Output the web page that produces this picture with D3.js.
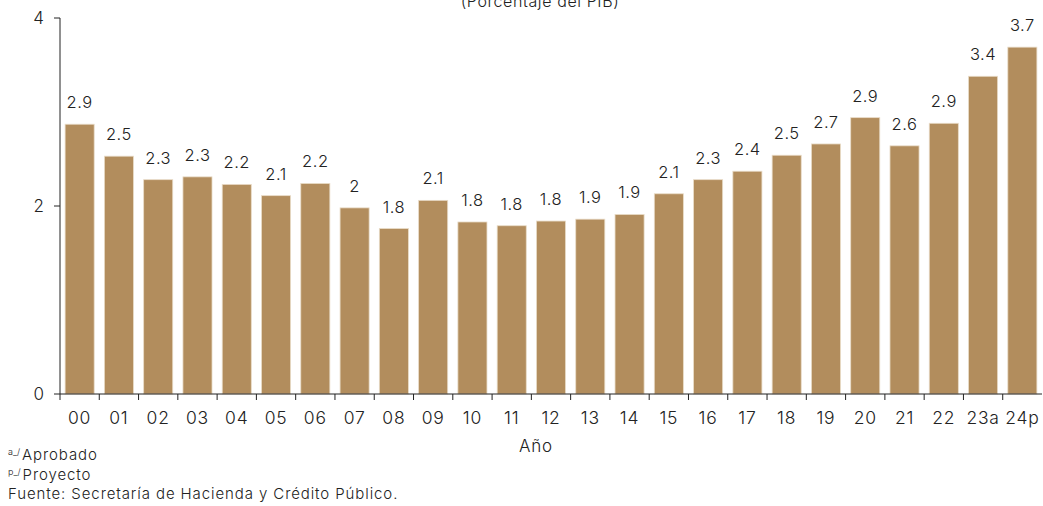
<!DOCTYPE html>
<html><head><meta charset="utf-8">
<script src="https://cdn.jsdelivr.net/npm/d3@7"></script>
<style>body{margin:0;background:#fff}svg{display:block}text{font-family:Inter,"Open Sans",sans-serif;font-weight:300;fill:#222}</style>
</head><body><svg id="c" width="1043" height="506"></svg>
<script>
const categories = ["00","01","02","03","04","05","06","07","08","09","10","11","12","13","14","15","16","17","18","19","20","21","22","23a","24p"];
const values = [2.87,2.53,2.28,2.31,2.23,2.11,2.24,1.98,1.76,2.06,1.83,1.79,1.84,1.86,1.91,2.13,2.28,2.37,2.54,2.66,2.94,2.64,2.88,3.38,3.69];
const yTicks = [0,2,4];
const title = "(Porcentaje del PIB)";
const xTitle = "Año";
const notes = [["a_/","Aprobado"],["p_/","Proyecto"],["","Fuente: Secretaría de Hacienda y Crédito Público."]];

const svg = d3.select("#c");
const x = d3.scaleBand().domain(categories).range([60,1042]).paddingInner(0.26).paddingOuter(0.13);
const y = d3.scaleLinear().domain([0,4]).range([394,18]);
const fmt = v => { const s = d3.format(".1f")(v); return s.endsWith(".0") ? s.slice(0,-2) : s; };

svg.append("text").attr("x",540).attr("y",7).attr("text-anchor","middle").style("font-size","16px").style("letter-spacing","0.6px").text(title);

svg.selectAll("rect.bar").data(values).join("rect").attr("class","bar")
  .attr("x",(d,i)=>x(categories[i])).attr("width",x.bandwidth())
  .attr("y",d=>y(d)).attr("height",d=>y(0)-y(d))
  .attr("fill","#b28d5d").attr("stroke","#e9dcc8").attr("stroke-width",0.8);

svg.selectAll("text.lbl").data(values).join("text").attr("class","lbl")
  .attr("x",(d,i)=>x(categories[i])+x.bandwidth()/2).attr("y",d=>y(d)-16)
  .attr("text-anchor","middle").style("font-size","16.5px").style("letter-spacing","0.5px").text(fmt);

// y axis
const ya = svg.append("g");
ya.append("line").attr("x1",60).attr("x2",60).attr("y1",y(4)).attr("y2",y(0)).attr("stroke","#222");
yTicks.forEach(t=>{
  ya.append("line").attr("x1",54).attr("x2",60).attr("y1",y(t)).attr("y2",y(t)).attr("stroke","#222");
  ya.append("text").attr("x",44).attr("y",y(t)).attr("dy","0.35em").attr("text-anchor","end").style("font-size","17px").text(t);
});
// x axis
const xa = svg.append("g");
xa.append("line").attr("x1",60).attr("x2",1042).attr("y1",394).attr("y2",394).attr("stroke","#222");
const step = x.step();
categories.forEach((c,i)=>{
  const bx = x(c) - x.paddingInner()*step/2;
  xa.append("line").attr("x1",bx).attr("x2",bx).attr("y1",394).attr("y2",400).attr("stroke","#222");
  xa.append("text").attr("x",x(c)+x.bandwidth()/2).attr("y",418).attr("dy","0.35em").attr("text-anchor","middle").style("font-size","17.5px").style("letter-spacing","0.8px").text(c);
});
svg.append("text").attr("x",536).attr("y",446).attr("dy","0.35em").attr("text-anchor","middle").style("font-size","17px").style("letter-spacing","0.8px").text(xTitle);

notes.forEach((n,i)=>{
  const t = svg.append("text").attr("x",8).attr("y",460+i*19.5).style("font-size","15px").style("letter-spacing","0.9px");
  if(n[0]) t.append("tspan").style("font-size","9px").style("letter-spacing","0px").attr("dy","-5").text(n[0]);
  t.append("tspan").attr("dx", n[0] ? "2" : "0").attr("dy", n[0] ? "5" : "0").text(n[1]);
});
</script></body></html>
